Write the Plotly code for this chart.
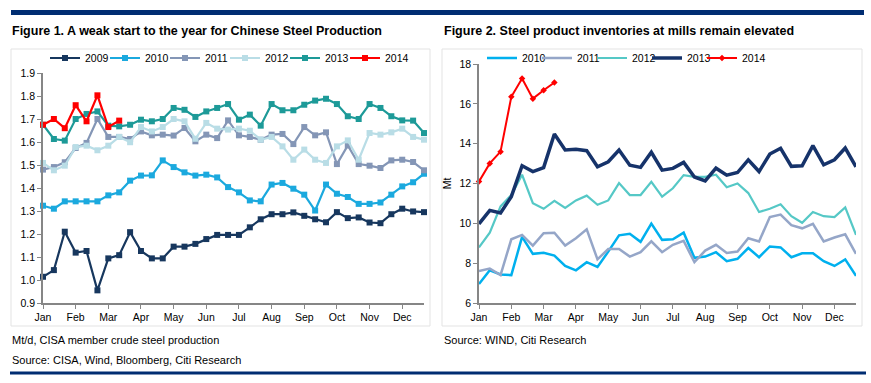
import plotly.graph_objects as go

W, H = 871, 383

# ---------------- data ----------------
months = ["Jan", "Feb", "Mar", "Apr", "May", "Jun", "Jul", "Aug", "Sep", "Oct", "Nov", "Dec"]
dekads = list(range(36))          # three ten-day periods per month
month_ticks = list(range(0, 36, 3))

# Figure 1: CISA member crude steel production, Mt/d
prod_2009 = [1.014, 1.043, 1.21, 1.119, 1.126, 0.955, 1.094, 1.108, 1.208, 1.126, 1.094, 1.094,
             1.145, 1.145, 1.157, 1.178, 1.196, 1.196, 1.196, 1.229, 1.264, 1.286, 1.286, 1.294,
             1.279, 1.264, 1.251, 1.295, 1.269, 1.272, 1.25, 1.247, 1.286, 1.31, 1.298, 1.295]
prod_2010 = [1.323, 1.31, 1.342, 1.342, 1.342, 1.342, 1.368, 1.381, 1.432, 1.454, 1.455, 1.52,
             1.491, 1.468, 1.454, 1.458, 1.446, 1.404, 1.381, 1.346, 1.342, 1.415, 1.422, 1.397,
             1.371, 1.302, 1.415, 1.375, 1.361, 1.331, 1.331, 1.337, 1.371, 1.407, 1.425, 1.462]
prod_2011 = [1.48, 1.491, 1.512, 1.574, 1.596, 1.70, 1.622, 1.622, 1.613, 1.646, 1.629, 1.632,
             1.628, 1.661, 1.603, 1.632, 1.617, 1.694, 1.629, 1.622, 1.61, 1.632, 1.635, 1.591,
             1.665, 1.629, 1.642, 1.504, 1.585, 1.504, 1.497, 1.487, 1.52, 1.523, 1.513, 1.477]
prod_2012 = [1.509, 1.477, 1.497, 1.578, 1.584, 1.564, 1.584, 1.622, 1.599, 1.665, 1.646, 1.665,
             1.70, 1.69, 1.614, 1.683, 1.658, 1.654, 1.658, 1.649, 1.61, 1.622, 1.581, 1.523,
             1.567, 1.523, 1.509, 1.581, 1.607, 1.523, 1.639, 1.632, 1.642, 1.658, 1.622, 1.61]
prod_2013 = [1.675, 1.613, 1.606, 1.70, 1.722, 1.733, 1.671, 1.668, 1.675, 1.697, 1.69, 1.70,
             1.748, 1.74, 1.709, 1.733, 1.748, 1.765, 1.697, 1.719, 1.671, 1.765, 1.738, 1.738,
             1.762, 1.78, 1.788, 1.765, 1.712, 1.70, 1.765, 1.748, 1.712, 1.694, 1.693, 1.639]
prod_2014 = [1.675, 1.70, 1.66, 1.76, 1.69, 1.803, 1.665, 1.693]

# Figure 2: steel product inventories at mills, Mt
inv_2010 = [6.95, 7.64, 7.43, 7.40, 9.32, 8.47, 8.52, 8.38, 7.86, 7.64, 8.05, 7.81,
            8.58, 9.40, 9.48, 9.07, 9.99, 9.17, 9.20, 9.53, 8.27, 8.33, 8.55, 8.10,
            8.22, 8.76, 8.30, 8.84, 8.79, 8.30, 8.50, 8.50, 8.10, 7.86, 8.19, 7.36]
inv_2011 = [7.61, 7.73, 7.40, 9.20, 9.42, 8.88, 9.50, 9.53, 8.88, 9.25, 9.70, 8.19,
            8.71, 8.71, 8.33, 8.55, 9.10, 8.55, 8.92, 9.12, 8.05, 8.63, 8.92, 8.51,
            8.58, 9.25, 9.09, 10.32, 10.44, 9.91, 9.75, 9.98, 9.09, 9.29, 9.45, 8.47]
inv_2012 = [8.79, 9.53, 10.85, 11.42, 12.44, 11.01, 10.73, 11.13, 10.77, 11.15, 11.39, 10.93,
            11.15, 12.02, 11.42, 11.42, 12.08, 11.34, 11.76, 12.42, 12.33, 12.33, 12.44, 11.81,
            12.0, 11.52, 10.57, 10.73, 10.96, 10.36, 10.03, 10.57, 10.36, 10.31, 10.80, 9.42]
inv_2013 = [9.97, 10.65, 10.52, 11.34, 12.89, 12.60, 12.80, 14.49, 13.68, 13.72, 13.65, 12.84,
            13.09, 13.68, 12.92, 12.81, 13.57, 12.67, 12.76, 13.06, 12.33, 12.13, 12.77, 12.42,
            12.55, 13.19, 12.60, 13.48, 13.77, 12.86, 12.89, 13.90, 12.94, 13.19, 13.78, 12.84]
inv_2014 = [12.10, 13.01, 13.60, 16.35, 17.27, 16.26, 16.68, 17.07]

# ---------------- styling ----------------
NAVY = "#002D72"
AX = "#868686"
SANS = "Liberation Sans, Arial, sans-serif"
TICKFONT = dict(family=SANS, size=10.5, color="#000000")
LEGFONT = dict(family=SANS, size=10.5, color="#000000")
TITLEFONT = dict(family=SANS, size=12.5, color="#000000")
NOTEFONT = dict(family=SANS, size=11, color="#000000")


def fx(p):
    return p / W


def fy(p):
    return 1 - p / H


fig = go.Figure()

left_series = [
    ("2009", prod_2009, "#17375E"),
    ("2010", prod_2010, "#1BA9DE"),
    ("2011", prod_2011, "#8496B6"),
    ("2012", prod_2012, "#B9DDE6"),
    ("2013", prod_2013, "#1D9A98"),
    ("2014", prod_2014, "#FF0000"),
]
for name, vals, col in left_series:
    fig.add_trace(go.Scatter(
        x=dekads[:len(vals)], y=vals, name=name, mode="lines+markers",
        line=dict(color=col, width=2.2), marker=dict(symbol="square", size=6, color=col),
        xaxis="x", yaxis="y", legend="legend", cliponaxis=False, hoverinfo="skip",
        legendwidth=40 if name == "2014" else None))

right_series = [
    ("2010", inv_2010, "#00B0EE", 2.5, None),
    ("2011", inv_2011, "#95A6C8", 2.5, None),
    ("2012", inv_2012, "#55C8C6", 2.2, None),
    ("2013", inv_2013, "#16336A", 3.5, None),
    ("2014", inv_2014, "#FF0000", 2.0, "diamond"),
]
for name, vals, col, w, sym in right_series:
    fig.add_trace(go.Scatter(
        x=dekads[:len(vals)], y=vals, name=name,
        mode="lines+markers" if sym else "lines",
        line=dict(color=col, width=w),
        marker=dict(symbol=sym or "circle", size=5, color=col),
        xaxis="x2", yaxis="y2", legend="legend2", cliponaxis=False, hoverinfo="skip",
        legendwidth=40 if name == "2014" else None))

axis_common = dict(showline=True, linecolor=AX, linewidth=1.6, ticks="outside", ticklen=4,
                   tickcolor=AX, tickwidth=1.2, showgrid=False, zeroline=False,
                   tickfont=TICKFONT, fixedrange=True, automargin=False)

fig.update_layout(
    width=W, height=H, margin=dict(l=0, r=0, t=0, b=0, pad=0, autoexpand=False),
    paper_bgcolor="white", plot_bgcolor="rgba(0,0,0,0)", showlegend=True,
    xaxis=dict(axis_common, domain=[fx(43), fx(424)], range=[0, 35],
               tickvals=month_ticks, ticktext=months, anchor="y"),
    yaxis=dict(axis_common, domain=[fy(303), fy(73)], range=[0.9, 1.9],
               dtick=0.1, tick0=0.9, tickformat=".1f", anchor="x"),
    xaxis2=dict(axis_common, domain=[fx(479), fx(856)], range=[0, 35],
                tickvals=month_ticks, ticktext=months, anchor="y2"),
    yaxis2=dict(axis_common, domain=[fy(303), fy(64)], range=[6, 18],
                dtick=2, tick0=6, anchor="x2",
                title=dict(text="Mt", font=TICKFONT, standoff=6)),
    legend=dict(orientation="h", x=fx(45), xanchor="left", y=fy(58), yanchor="middle",
                entrywidth=15, entrywidthmode="pixels", font=LEGFONT,
                bgcolor="rgba(0,0,0,0)", borderwidth=0, itemclick=False, itemdoubleclick=False),
    legend2=dict(orientation="h", x=fx(482), xanchor="left", y=fy(58), yanchor="middle",
                 entrywidth=10, entrywidthmode="pixels", font=LEGFONT,
                 bgcolor="rgba(0,0,0,0)", borderwidth=0, itemclick=False, itemdoubleclick=False),
)

shapes = [
    # top navy rule
    dict(type="rect", xref="paper", yref="paper", x0=fx(11), x1=fx(864), y0=fy(15), y1=fy(10),
         fillcolor=NAVY, line=dict(width=0), layer="below"),
    # bottom navy rule
    dict(type="rect", xref="paper", yref="paper", x0=fx(10), x1=fx(866), y0=fy(374.5), y1=fy(371.5),
         fillcolor=NAVY, line=dict(width=0), layer="below"),
    # light chart frames
    dict(type="rect", xref="paper", yref="paper", x0=fx(11), x1=fx(430), y0=fy(326), y1=fy(49),
         line=dict(color="#E3E3E3", width=1), layer="below"),
    dict(type="rect", xref="paper", yref="paper", x0=fx(442), x1=fx(862), y0=fy(326), y1=fy(49),
         line=dict(color="#E3E3E3", width=1), layer="below"),
]

annotations = [
    dict(text="<b>Figure 1. A weak start to the year for Chinese Steel Production</b>",
         x=fx(11), y=fy(31), xref="paper", yref="paper", xanchor="left", yanchor="middle",
         showarrow=False, font=TITLEFONT, borderpad=0),
    dict(text="<b>Figure 2. Steel product inventories at mills remain elevated</b>",
         x=fx(443), y=fy(31), xref="paper", yref="paper", xanchor="left", yanchor="middle",
         showarrow=False, font=TITLEFONT, borderpad=0),
    dict(text="Mt/d, CISA member crude steel production",
         x=fx(11), y=fy(340), xref="paper", yref="paper", xanchor="left", yanchor="middle",
         showarrow=False, font=NOTEFONT, borderpad=0),
    dict(text="Source: CISA, Wind, Bloomberg, Citi Research",
         x=fx(11), y=fy(360), xref="paper", yref="paper", xanchor="left", yanchor="middle",
         showarrow=False, font=NOTEFONT, borderpad=0),
    dict(text="Source: WIND, Citi Research",
         x=fx(443), y=fy(340), xref="paper", yref="paper", xanchor="left", yanchor="middle",
         showarrow=False, font=NOTEFONT, borderpad=0),
]

fig.update_layout(shapes=shapes, annotations=annotations)
fig.write_html("out.html", config={"displayModeBar": False, "staticPlot": False},
               post_script="document.body.style.margin='0';document.body.style.padding='0';")
